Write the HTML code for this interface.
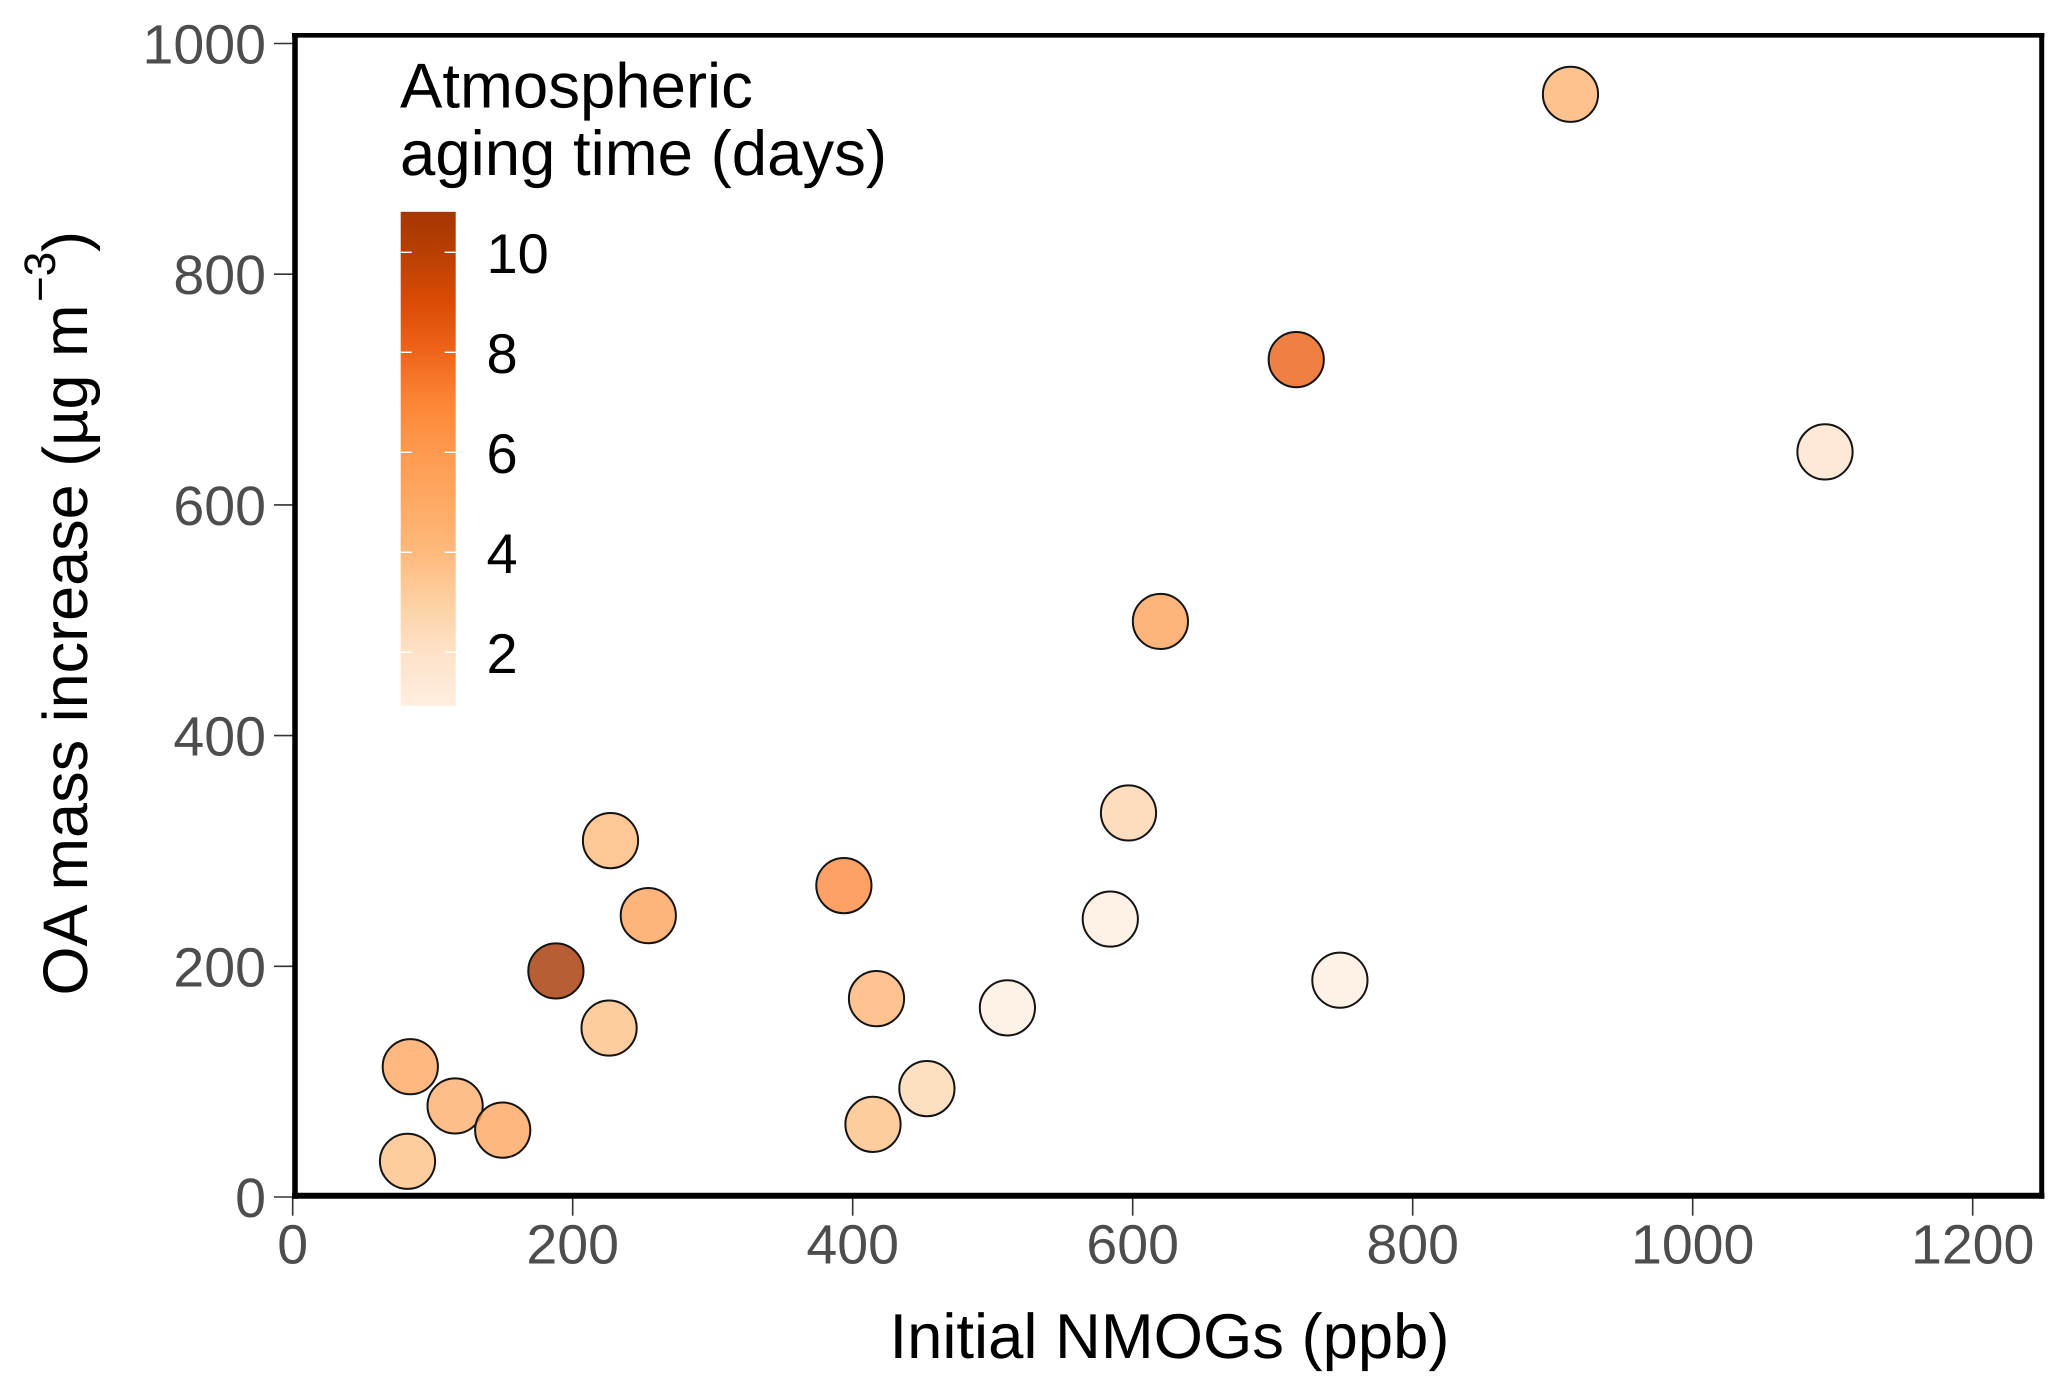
<!DOCTYPE html>
<html lang="en">
<head>
<meta charset="utf-8">
<title>OA mass increase vs initial NMOGs</title>
<style>
html,body{margin:0;padding:0;background:#fff;width:2068px;height:1395px;overflow:hidden}
svg{display:block}
text{font-family:"Liberation Sans",Arial,sans-serif;text-rendering:geometricPrecision}
</style>
</head>
<body>
<svg id="chart" xmlns="http://www.w3.org/2000/svg" width="2068" height="1395" viewBox="0 0 2068 1395">
  <defs>
    <linearGradient id="cbar-gradient" x1="0" y1="1" x2="0" y2="0"></linearGradient>
  </defs>
  <rect x="0" y="0" width="2068" height="1395" fill="#fff"></rect>
  <g id="x-ticks"></g>
  <g id="y-ticks"></g>
  <g id="points"></g>
  <g stroke="#000" fill="none">
    <line x1="295" y1="33" x2="295" y2="1198.7" stroke-width="5.5"></line>
    <line x1="292" y1="35.3" x2="2044.4" y2="35.3" stroke-width="4.6"></line>
    <line x1="2041.7" y1="33" x2="2041.7" y2="1198.7" stroke-width="5"></line>
    <line x1="292" y1="1195.7" x2="2044.4" y2="1195.7" stroke-width="6"></line>
  </g>
  <text x="1169.5" y="1358" font-size="63.4" text-anchor="middle" fill="#000">Initial NMOGs (ppb)</text>
  <g fill="#000">
    <text transform="translate(87,995.5) rotate(-90)" font-size="63" x="0" y="0">OA mass increase (µg m</text>
    <text transform="translate(55,302) rotate(-90)" font-size="44" x="0" y="0">−3</text>
    <text transform="translate(87,252) rotate(-90)" font-size="63" x="0" y="0">)</text>
  </g>
  <g>
    <text x="400" y="107.3" font-size="63.5" fill="#000">Atmospheric</text>
    <text x="400" y="175" font-size="63.5" fill="#000">aging time (days)</text>
    <g id="cbar"></g>
  </g>
</svg>
<script>
var xTickValues = [0, 200, 400, 600, 800, 1000, 1200];
var yTickValues = [0, 200, 400, 600, 800, 1000];
var colorbarTicks = [2, 4, 6, 8, 10];
var nmogValues = [912.7, 716.8, 1094.5, 619.8, 597, 227, 393.7, 584, 254, 188, 748, 417, 510.5, 226, 84, 116, 453, 414.5, 150, 82];
var oaValues = [957, 727, 647, 500, 334, 310, 271, 242, 245, 197, 189, 173, 165, 147.5, 114, 80, 95, 64, 59, 32];
var agingDays = [4.4, 8.2, 1.8, 5.5, 2.7, 4, 6.7, 1.0, 5.5, 10.8, 0.95, 4.3, 0.95, 3.7, 5.2, 4.7, 2.6, 3.7, 5.3, 3.7];
var rampDays = [0.93, 2, 3, 4, 5, 6, 7, 8, 9, 10, 10.81];
var rampColors = ['#feeee0', '#fde2c8', '#fdd0a2', '#feb97c', '#fea964', '#fd9a4f', '#fd8535', '#ee6519', '#da4b05', '#b83f03', '#a63603'];

var SVGNS = 'http://www.w3.org/2000/svg';
function xScale(v) { return 292.7 + 1.4 * v; }
function yScale(v) { return 1197 - 1.1535 * v; }
function cbarScale(v) { return 252.3 + (10 - v) * 50; }
function hexToRgb(h) {
  return [parseInt(h.substr(1, 2), 16), parseInt(h.substr(3, 2), 16), parseInt(h.substr(5, 2), 16)];
}
function colorFor(t) {
  var i = 0;
  if (t <= rampDays[0]) return rampColors[0];
  if (t >= rampDays[rampDays.length - 1]) return rampColors[rampColors.length - 1];
  while (t > rampDays[i + 1]) i++;
  var f = (t - rampDays[i]) / (rampDays[i + 1] - rampDays[i]);
  var a = hexToRgb(rampColors[i]), b = hexToRgb(rampColors[i + 1]);
  return 'rgb(' + Math.round(a[0] + (b[0] - a[0]) * f) + ',' + Math.round(a[1] + (b[1] - a[1]) * f) + ',' + Math.round(a[2] + (b[2] - a[2]) * f) + ')';
}
function make(tag, attrs, parent) {
  var el = document.createElementNS(SVGNS, tag);
  for (var k in attrs) el.setAttribute(k, attrs[k]);
  parent.appendChild(el);
  return el;
}

var xG = document.getElementById('x-ticks');
xTickValues.forEach(function (v) {
  var px = xScale(v);
  var tick = make('line', { x1: px, x2: px, y1: 1197, y2: 1215.7, stroke: '#333', 'stroke-width': 1.6 }, xG);
  
  
  var label = make('text', { x: px, y: 1263.5, 'font-size': 55.5, 'text-anchor': 'middle', fill: '#4d4d4d' }, xG);
  label.textContent = String(v);
  
  
});

var yG = document.getElementById('y-ticks');
yTickValues.forEach(function (v) {
  var py = yScale(v);
  var tick = make('line', { x1: 274, x2: 295, y1: py, y2: py, stroke: '#333', 'stroke-width': 1.6 }, yG);
  
  
  var label = make('text', { x: 266, y: py + 20, 'font-size': 55.5, 'text-anchor': 'end', fill: '#4d4d4d' }, yG);
  label.textContent = String(v);
  
  
});

var pG = document.getElementById('points');
nmogValues.forEach(function (v, i) {
  var c = make('circle', {
    cx: xScale(v), cy: yScale(oaValues[i]) + 1.2, r: 27.6,
    fill: colorFor(agingDays[i]), 'fill-opacity': 0.8,
    stroke: '#141414', 'stroke-width': 2
  }, pG);
  
  
});

var grad = document.getElementById('cbar-gradient');
var lo = rampDays[0], hi = rampDays[rampDays.length - 1];
rampDays.forEach(function (d, i) {
  make('stop', { offset: (d - lo) / (hi - lo), 'stop-color': rampColors[i] }, grad);
});
var cb = document.getElementById('cbar');
var cbarTop = cbarScale(hi), cbarBottom = cbarScale(lo);
var bar = make('rect', { x: 400.7, y: cbarTop, width: 55, height: cbarBottom - cbarTop, fill: 'url(#cbar-gradient)' }, cb);


colorbarTicks.forEach(function (v) {
  var py = cbarScale(v);
  var left = make('line', { x1: 400.7, x2: 411.7, y1: py, y2: py, stroke: '#fff', 'stroke-width': 1.4 }, cb);
  
  
  var right = make('line', { x1: 444.7, x2: 455.7, y1: py, y2: py, stroke: '#fff', 'stroke-width': 1.4 }, cb);
  
  
  var label = make('text', { x: 486.5, y: py + 20.5, 'font-size': 56, fill: '#000' }, cb);
  label.textContent = String(v);
  
  
});
</script>
</body>
</html>
